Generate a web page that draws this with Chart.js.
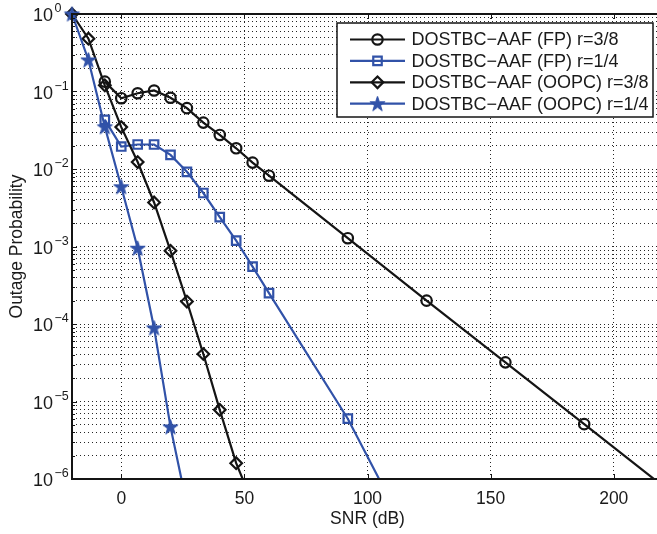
<!DOCTYPE html>
<html><head><meta charset="utf-8">
<script src="https://cdn.jsdelivr.net/npm/chart.js@4.4.1/dist/chart.umd.min.js"></script>
<style>html,body{margin:0;padding:0;overflow:hidden;background:#fff}</style>
</head><body>
<canvas id="c" width="680" height="534"></canvas>
<script>
// ---- data ----
const seriesNames = ['DOSTBC\u2212AAF (FP) r=3/8', 'DOSTBC\u2212AAF (FP) r=1/4', 'DOSTBC\u2212AAF (OOPC) r=3/8', 'DOSTBC\u2212AAF (OOPC) r=1/4'];
const fp38X = [-6.67, 0, 6.67, 13.33, 20, 26.67, 33.33, 40, 46.67, 53.33, 60, 92, 124, 156, 188, 220];
const fp38Y = [0.134, 0.082, 0.095, 0.103, 0.083, 0.061, 0.0397, 0.0275, 0.0185, 0.0121, 0.0082, 1.28e-3, 2.0e-4, 3.2e-5, 5.1e-6, 8.1e-7];
const fp14X = [-6.67, 0, 6.67, 13.33, 20, 26.67, 33.33, 40, 46.67, 53.33, 60, 92, 124];
const fp14Y = [0.043, 0.0195, 0.0207, 0.0207, 0.0152, 0.0092, 0.0049, 0.0024, 0.00119, 5.5e-4, 2.5e-4, 6.0e-6, 6.6e-8];
const oopc38X = [-20, -13.33, -6.67, 0, 6.67, 13.33, 20, 26.67, 33.33, 40, 46.67, 53.33];
const oopc38Y = [1, 0.48, 0.12, 0.0347, 0.0123, 0.0037, 8.8e-4, 1.95e-4, 4.1e-5, 7.8e-6, 1.6e-6, 4.9e-7];
const oopc14X = [-20, -13.33, -6.67, 0, 6.67, 13.33, 20, 26.67];
const oopc14Y = [1, 0.255, 0.035, 0.0059, 9.5e-4, 8.9e-5, 4.7e-6, 4.6e-7];
const xTickValues = [0, 50, 100, 150, 200];
const yDecades = [0, -1, -2, -3, -4, -5, -6];
const xTitle = 'SNR (dB)';
const yTitle = 'Outage Probability';

const BLACK = '#141414';
const BLUE = '#3152a8';
const FONT = "'Liberation Sans', Arial, Helvetica, sans-serif";
const GRID_DASH = [1, 3];

function makeStar(color) {
  const c = document.createElement('canvas');
  c.width = 19; c.height = 19;
  const g = c.getContext('2d');
  g.translate(9.5, 10);
  g.beginPath();
  for (let i = 0; i < 10; i++) {
    const r = i % 2 === 0 ? 8 : 3.1;
    const a = -Math.PI / 2 + i * Math.PI / 5;
    g.lineTo(r * Math.cos(a), r * Math.sin(a));
  }
  g.closePath();
  g.fillStyle = color; g.fill();
  g.strokeStyle = color; g.lineWidth = 1; g.stroke();
  return c;
}
const starImg = makeStar(BLUE);

function pts(xs, ys) { return xs.map((x, i) => ({x: x, y: ys[i]})); }
const clipBox = {left: 12, top: 12, right: 0, bottom: 0};

const datasets = [
  {label: seriesNames[0], data: pts(fp38X, fp38Y), borderColor: BLACK, pointBorderColor: BLACK,
   pointStyle: 'circle', pointRadius: 5.2, order: 3},
  {label: seriesNames[1], data: pts(fp14X, fp14Y), borderColor: BLUE, pointBorderColor: BLUE,
   pointStyle: 'rect', pointRadius: 6, order: 2},
  {label: seriesNames[2], data: pts(oopc38X, oopc38Y), borderColor: BLACK, pointBorderColor: BLACK,
   pointStyle: 'rectRot', pointRadius: 5.8, order: 1},
  {label: seriesNames[3], data: pts(oopc14X, oopc14Y), borderColor: BLUE, pointBorderColor: BLUE,
   pointStyle: starImg, pointRadius: 7, order: 0}
].map(d => Object.assign({borderWidth: 2.2, pointBorderWidth: 2.2, pointBackgroundColor: 'rgba(0,0,0,0)',
  backgroundColor: 'rgba(0,0,0,0)', tension: 0, fill: false, clip: clipBox, showLine: true}, d));

const decorPlugin = {
  id: 'decor',
  afterDatasetsDraw(chart) {
    const ctx = chart.ctx, a = chart.chartArea;
    const xs = chart.scales.x, ys = chart.scales.y;
    ctx.save();
    // inward ticks
    ctx.strokeStyle = BLACK; ctx.lineWidth = 1;
    ctx.beginPath();
    xTickValues.forEach(v => {
      const px = Math.round(xs.getPixelForValue(v)) + 0.5;
      ctx.moveTo(px, a.bottom); ctx.lineTo(px, a.bottom - 5);
      ctx.moveTo(px, a.top); ctx.lineTo(px, a.top + 5);
    });
    ys.ticks.forEach(t => {
      const py = Math.round(ys.getPixelForValue(t.value)) + 0.5;
      const major = Math.abs(Math.log10(t.value) - Math.round(Math.log10(t.value))) < 1e-9;
      ctx.moveTo(a.left, py); ctx.lineTo(a.left + (major ? 5 : 3), py);
    });
    ctx.stroke();
    // axes box
    ctx.lineWidth = 2;
    ctx.strokeRect(a.left, a.top, a.right - a.left, a.bottom - a.top);
    // legend
    const L = {x0: 337, y0: 23, x1: 653, y1: 117};
    ctx.fillStyle = '#fff';
    ctx.fillRect(L.x0, L.y0, L.x1 - L.x0, L.y1 - L.y0);
    ctx.lineWidth = 1.5; ctx.strokeStyle = BLACK;
    ctx.strokeRect(L.x0, L.y0, L.x1 - L.x0, L.y1 - L.y0);
    ctx.font = '18px ' + FONT;
    ctx.textBaseline = 'middle'; ctx.textAlign = 'left';
    chart.data.datasets.forEach((d, i) => {
      const y = 39.5 + i * 21.4;
      ctx.strokeStyle = d.borderColor; ctx.lineWidth = 2.2;
      ctx.beginPath(); ctx.moveTo(350, y); ctx.lineTo(405, y); ctx.stroke();
      ctx.fillStyle = 'rgba(0,0,0,0)';
      Chart.helpers.drawPoint(ctx, {pointStyle: d.pointStyle, radius: d.pointRadius, borderWidth: 2.2, rotation: 0}, 377.5, y);
      ctx.fillStyle = '#1a1a1a';
      ctx.fillText(d.label, 411.5, y + 1);
    });
    // y tick labels 10^n
    ctx.fillStyle = '#1a1a1a';
    yDecades.forEach(n => {
      const py = ys.getPixelForValue(Math.pow(10, n));
      ctx.font = '18px ' + FONT; ctx.textAlign = 'right'; ctx.textBaseline = 'middle';
      ctx.fillText('10', 53, py + 2.5);
      ctx.font = '12.5px ' + FONT; ctx.textAlign = 'left';
      ctx.fillText(n === 0 ? '0' : '\u2212' + (-n), 54.5, py - 5);
    });
    ctx.restore();
  }
};

const gridOpts = {color: 'rgba(0,0,0,0.85)', lineWidth: 1, drawTicks: false, borderDash: GRID_DASH, borderDashOffset: 0};

new Chart(document.getElementById('c'), {
  type: 'line',
  data: {datasets: datasets},
  options: {
    responsive: false,
    animation: false,
    events: [],
    layout: {padding: {left: 0, top: 14, right: 17, bottom: 0}},
    plugins: {legend: {display: false}, tooltip: {enabled: false}},
    scales: {
      x: {
        type: 'linear', min: -20, max: 220,
        afterBuildTicks: s => { s.ticks = xTickValues.map(v => ({value: v})); },
        afterFit: s => { s.height = 55; },
        grid: gridOpts,
        border: {display: false, dash: GRID_DASH},
        ticks: {color: '#1a1a1a', font: {family: FONT, size: 17.5}, padding: 10, maxRotation: 0},
        title: {display: true, text: xTitle, color: '#1a1a1a', font: {family: FONT, size: 17.5}, padding: {top: 0, bottom: 4}}
      },
      y: {
        type: 'logarithmic', min: 1e-6, max: 1,
        afterBuildTicks: s => {
          const t = [];
          for (let e = -6; e < 0; e++) for (let m = 1; m < 10; m++) t.push({value: m * Math.pow(10, e)});
          t.push({value: 1});
          s.ticks = t;
        },
        afterFit: s => { s.width = 72; },
        grid: gridOpts,
        border: {display: false, dash: GRID_DASH},
        ticks: {display: false},
        title: {display: true, text: yTitle, color: '#1a1a1a', font: {family: FONT, size: 17.5}, padding: {top: 7, bottom: 0}}
      }
    }
  },
  plugins: [decorPlugin]
});
</script>
</body></html>
